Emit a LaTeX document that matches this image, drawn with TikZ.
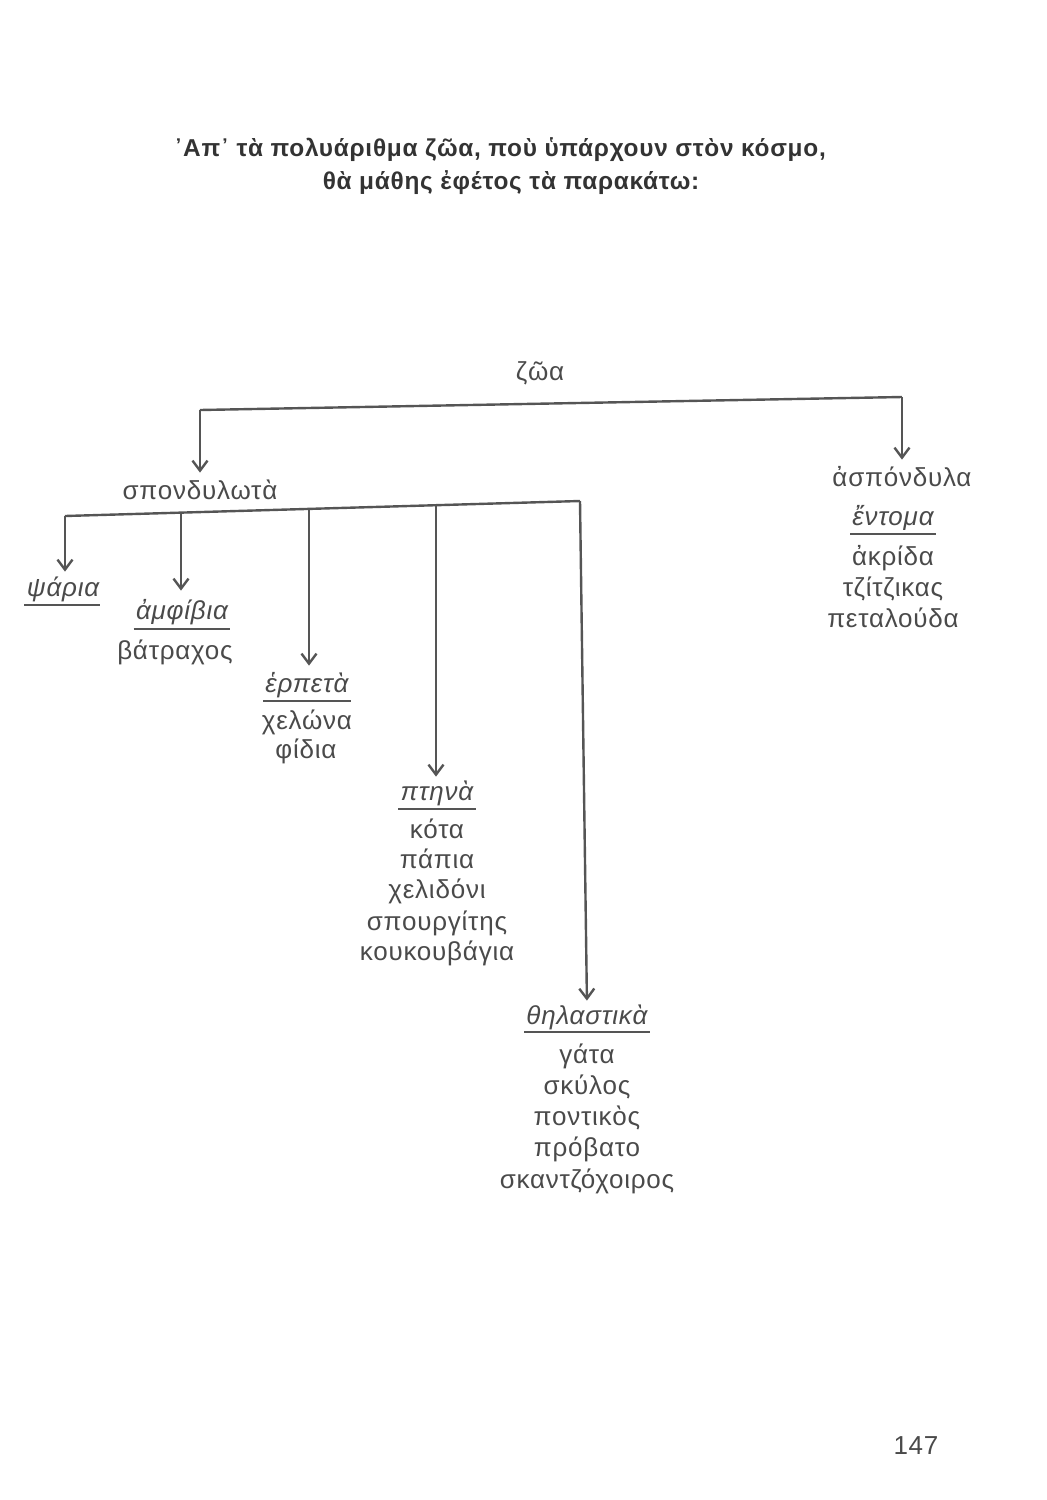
\documentclass[tikz,border=0pt]{standalone}
\usepackage{fontspec}
\setmainfont{Liberation Sans}[LetterSpace=3]
\usetikzlibrary{arrows.meta}
\definecolor{ink}{HTML}{4A4A4A}
\definecolor{titleink}{HTML}{333333}
\definecolor{lineink}{HTML}{555555}
\begin{document}
\begin{tikzpicture}[x=0.5pt,y=-0.5pt,
  txt/.style={font=\fontsize{13}{15}\selectfont, text=ink, inner sep=0pt, anchor=base, text height=9pt, text depth=3pt},
  head/.style={txt, font=\fontsize{13}{15}\selectfont\itshape},
  ttl/.style={font=\fontsize{12.2}{15}\selectfont\bfseries, text=titleink, inner sep=0pt, anchor=base},
  ln/.style={draw=lineink, line width=1.2pt},
  arr/.style={ln, -{Straight Barb[length=5pt,width=7.5pt,line width=1.2pt]}},
  ul/.style={draw=lineink, line width=1.1pt}]
\useasboundingbox (0,0) rectangle (1046,1500);
% title
\node[ttl] (t1) at (500,156) {᾿Απ᾿ τὰ πολυάριθμα ζῶα, ποὺ ὑπάρχουν στὸν κόσμο,};
\node[ttl] (t2) at (511,189) {θὰ μάθης ἐφέτος τὰ παρακάτω:};
% top level
\node[txt] (zoa) at (540,380) {ζῶα};
\node[txt] (spon) at (200,499) {σπονδυλωτὰ};
\node[txt] (aspon) at (902,486) {ἀσπόνδυλα};
\coordinate (bl) at (200,410);
\coordinate (br) at (902,397);
\draw[ln] (bl) -- (br);
\draw[arr, shorten >=4pt] (bl) -- (bl |- spon.north);
\draw[arr, shorten >=4pt] (br) -- (br |- aspon.north);
% invertebrates
\node[head] (ent) at (893,525) {ἔντομα};
\draw[ul] ([xshift=-1pt,yshift=-4.5pt]ent.base west) -- ([xshift=1pt,yshift=-4.5pt]ent.base east);
\node[txt] (akr) at (893,565) {ἀκρίδα};
\node[txt] (tzi) at (893,596) {τζίτζικας};
\node[txt] (pet) at (893,627) {πεταλούδα};
% vertebrate bar
\coordinate (v0) at (65,516);
\coordinate (v1) at (181,512.6);
\coordinate (v2) at (309,508.9);
\coordinate (v3) at (436,505.2);
\coordinate (v4) at (580,501);
\draw[ln] (v0) -- (v4);
% fish
\node[head] (psa) at (63,596) {ψάρια};
\draw[ul] ([xshift=-1pt,yshift=-4.5pt]psa.base west) -- ([xshift=0pt,yshift=-4.5pt]psa.base east);
\draw[arr, shorten >=3pt] (v0) -- (v0 |- psa.north);
% amphibians
\node[head] (amf) at (182,619) {ἀμφίβια};
\draw[ul] ([xshift=-1pt,yshift=-5pt]amf.base west) -- ([xshift=1pt,yshift=-5pt]amf.base east);
\draw[arr, shorten >=5pt] (v1) -- (v1 |- amf.north);
\node[txt] (vat) at (175,659) {βάτραχος};
% reptiles
\node[head] (erp) at (307,692) {ἑρπετὰ};
\draw[ul] ([xshift=-1pt,yshift=-4.5pt]erp.base west) -- ([xshift=1pt,yshift=-4.5pt]erp.base east);
\draw[arr, shorten >=4pt] (v2) -- (v2 |- erp.north);
\node[txt] (che) at (307,729) {χελώνα};
\node[txt] (fid) at (306,758) {φίδια};
% birds
\node[head] (pti) at (437,800) {πτηνὰ};
\draw[ul] ([xshift=-1pt,yshift=-4.5pt]pti.base west) -- ([xshift=1pt,yshift=-4.5pt]pti.base east);
\draw[arr, shorten >=2.5pt] (v3) -- (v3 |- pti.north);
\node[txt] (kot) at (437,838) {κότα};
\node[txt] (pap) at (437,868) {πάπια};
\node[txt] (chel) at (437,898) {χελιδόνι};
\node[txt] (spo) at (437,930) {σπουργίτης};
\node[txt] (kou) at (437,960) {κουκουβάγια};
% mammals
\node[head] (thi) at (587,1024) {θηλαστικὰ};
\draw[ul] ([xshift=-1pt,yshift=-4pt]thi.base west) -- ([xshift=1pt,yshift=-4pt]thi.base east);
\draw[arr, shorten >=2.5pt] (v4) -- (thi.north);
\node[txt] (gat) at (587,1063) {γάτα};
\node[txt] (sky) at (587,1094) {σκύλος};
\node[txt] (pon) at (587,1125) {ποντικὸς};
\node[txt] (pro) at (587,1156) {πρόβατο};
\node[txt] (ska) at (587,1188) {σκαντζόχοιρος};
% page number
\node[txt] (page) at (916,1454) {147};
\end{tikzpicture}
\end{document}
